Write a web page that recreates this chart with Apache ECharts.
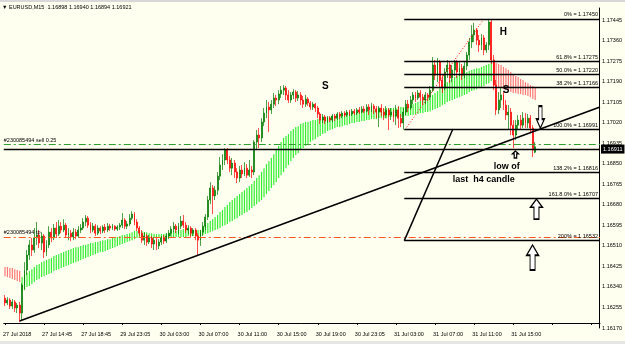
<!DOCTYPE html>
<html><head><meta charset="utf-8">
<script src="https://cdn.jsdelivr.net/npm/echarts@6/dist/echarts.min.js"></script>
<style>html,body{margin:0;padding:0;background:#fffff0;overflow:hidden}#c{width:625px;height:344px;}</style>
</head><body><div id="c"></div>
<script>
// ---- DATA ----
const timeLabels = ['27 Jul 2018','27 Jul 14:45','27 Jul 18:45','29 Jul 23:05','30 Jul 03:00','30 Jul 07:00','30 Jul 11:00','30 Jul 15:00','30 Jul 19:00','30 Jul 23:05','31 Jul 03:00','31 Jul 07:00','31 Jul 11:00','31 Jul 15:00'];
const barsPerLabel = 16;
const emptyBarsRight = 26;
const priceTicks = [1.16170,1.16255,1.16340,1.16425,1.16510,1.16595,1.16680,1.16765,1.16850,1.16935,1.17020,1.17105,1.17190,1.17275,1.17360,1.17445];
const header = '\u25BC EURUSD,M15  1.16898 1.16940 1.16894 1.16921';

// candles: [open, close, low, high]
const candles = [
[1.16294,1.16274,1.16261,1.16307],[1.16274,1.16286,1.16265,1.16298],[1.16286,1.16261,1.16249,1.16294],[1.16261,1.16278,1.16249,1.16290],
[1.16278,1.16253,1.16236,1.16286],[1.16253,1.16265,1.16232,1.16274],[1.16265,1.16232,1.16195,1.16278],[1.16232,1.16348,1.16199,1.16356],
[1.16348,1.16410,1.16327,1.16443],[1.16410,1.16472,1.16390,1.16493],[1.16472,1.16514,1.16452,1.16534],[1.16514,1.16493,1.16468,1.16543],
[1.16493,1.16543,1.16481,1.16584],[1.16543,1.16555,1.16514,1.16609],[1.16555,1.16522,1.16501,1.16576],[1.16522,1.16551,1.16493,1.16567],
[1.16551,1.16485,1.16460,1.16559],[1.16485,1.16514,1.16468,1.16534],[1.16514,1.16567,1.16501,1.16592],[1.16567,1.16543,1.16526,1.16584],
[1.16543,1.16584,1.16534,1.16601],[1.16584,1.16559,1.16543,1.16609],[1.16559,1.16592,1.16551,1.16617],[1.16592,1.16576,1.16563,1.16609],
[1.16576,1.16596,1.16567,1.16621],[1.16596,1.16555,1.16543,1.16605],[1.16555,1.16563,1.16534,1.16584],[1.16563,1.16547,1.16530,1.16576],
[1.16547,1.16567,1.16534,1.16584],[1.16567,1.16551,1.16538,1.16580],[1.16551,1.16576,1.16543,1.16592],[1.16576,1.16584,1.16563,1.16601],
[1.16584,1.16609,1.16576,1.16625],[1.16609,1.16625,1.16592,1.16638],[1.16625,1.16596,1.16584,1.16634],[1.16596,1.16576,1.16563,1.16609],
[1.16576,1.16592,1.16567,1.16605],[1.16592,1.16563,1.16551,1.16601],[1.16563,1.16584,1.16555,1.16596],[1.16584,1.16572,1.16559,1.16592],
[1.16572,1.16588,1.16563,1.16596],[1.16588,1.16576,1.16563,1.16601],[1.16576,1.16592,1.16567,1.16605],[1.16592,1.16584,1.16572,1.16601],
[1.16584,1.16592,1.16576,1.16601],[1.16592,1.16580,1.16572,1.16596],[1.16580,1.16588,1.16572,1.16596],[1.16588,1.16596,1.16576,1.16605],
[1.16596,1.16617,1.16584,1.16646],[1.16617,1.16592,1.16580,1.16625],[1.16592,1.16601,1.16580,1.16613],[1.16601,1.16625,1.16592,1.16642],
[1.16625,1.16642,1.16617,1.16654],[1.16642,1.16609,1.16596,1.16650],[1.16609,1.16584,1.16572,1.16621],[1.16584,1.16563,1.16551,1.16592],
[1.16563,1.16534,1.16522,1.16576],[1.16534,1.16551,1.16514,1.16567],[1.16551,1.16526,1.16510,1.16559],[1.16526,1.16543,1.16518,1.16555],
[1.16543,1.16518,1.16501,1.16551],[1.16518,1.16534,1.16493,1.16547],[1.16534,1.16510,1.16493,1.16543],[1.16510,1.16526,1.16497,1.16538],
[1.16526,1.16543,1.16514,1.16551],[1.16543,1.16530,1.16518,1.16555],[1.16530,1.16551,1.16522,1.16563],[1.16551,1.16563,1.16538,1.16576],
[1.16563,1.16580,1.16551,1.16592],[1.16580,1.16592,1.16567,1.16609],[1.16592,1.16576,1.16563,1.16601],[1.16576,1.16592,1.16559,1.16605],
[1.16592,1.16613,1.16580,1.16634],[1.16613,1.16596,1.16584,1.16638],[1.16596,1.16576,1.16563,1.16609],[1.16576,1.16584,1.16559,1.16596],
[1.16584,1.16563,1.16547,1.16592],[1.16563,1.16576,1.16551,1.16584],[1.16576,1.16551,1.16534,1.16584],[1.16551,1.16534,1.16472,1.16563],
[1.16534,1.16567,1.16510,1.16576],[1.16567,1.16592,1.16551,1.16609],[1.16592,1.16630,1.16576,1.16642],[1.16630,1.16700,1.16617,1.16717],
[1.16700,1.16750,1.16683,1.16774],[1.16750,1.16717,1.16642,1.16762],[1.16717,1.16741,1.16700,1.16758],[1.16741,1.16799,1.16721,1.16816],
[1.16799,1.16845,1.16783,1.16878],[1.16845,1.16866,1.16824,1.16890],[1.16866,1.16907,1.16845,1.16915],[1.16907,1.16866,1.16849,1.16915],
[1.16866,1.16832,1.16816,1.16882],[1.16832,1.16853,1.16803,1.16874],[1.16853,1.16816,1.16791,1.16866],[1.16816,1.16791,1.16770,1.16832],
[1.16791,1.16824,1.16774,1.16841],[1.16824,1.16808,1.16791,1.16845],[1.16808,1.16832,1.16799,1.16857],[1.16832,1.16803,1.16791,1.16849],
[1.16803,1.16824,1.16795,1.16866],[1.16824,1.16816,1.16791,1.16841],[1.16816,1.16940,1.16803,1.16948],[1.16940,1.16969,1.16907,1.16990],
[1.16969,1.16957,1.16915,1.16998],[1.16957,1.17023,1.16940,1.17039],[1.17023,1.17060,1.17006,1.17081],[1.17060,1.17085,1.17039,1.17114],
[1.17085,1.17073,1.16981,1.17106],[1.17073,1.17097,1.17056,1.17114],[1.17097,1.17122,1.17081,1.17143],[1.17122,1.17114,1.17089,1.17135],
[1.17114,1.17139,1.17097,1.17155],[1.17139,1.17155,1.17122,1.17172],[1.17155,1.17164,1.17135,1.17176],[1.17164,1.17135,1.17114,1.17172],
[1.17135,1.17114,1.17102,1.17155],[1.17114,1.17135,1.17102,1.17147],[1.17135,1.17147,1.17118,1.17159],[1.17147,1.17122,1.17106,1.17155],
[1.17122,1.17135,1.17110,1.17151],[1.17135,1.17114,1.17093,1.17147],[1.17114,1.17097,1.17081,1.17131],[1.17097,1.17118,1.17085,1.17135],
[1.17118,1.17102,1.17089,1.17126],[1.17102,1.17085,1.17073,1.17110],[1.17085,1.17097,1.17073,1.17106],[1.17097,1.17081,1.17064,1.17102],
[1.17081,1.17056,1.17039,1.17089],[1.17056,1.17031,1.17015,1.17064],[1.17031,1.17044,1.17019,1.17056],[1.17044,1.17027,1.17015,1.17052],
[1.17027,1.17039,1.17019,1.17048],[1.17039,1.17031,1.17023,1.17048],[1.17031,1.17048,1.17023,1.17056],[1.17048,1.17039,1.17027,1.17056],
[1.17039,1.17056,1.17031,1.17064],[1.17056,1.17048,1.17035,1.17064],[1.17048,1.17060,1.17039,1.17068],[1.17060,1.17052,1.17044,1.17068],
[1.17052,1.17064,1.17044,1.17073],[1.17064,1.17056,1.17048,1.17073],[1.17056,1.17068,1.17048,1.17077],[1.17068,1.17060,1.17052,1.17077],
[1.17060,1.17073,1.17052,1.17081],[1.17073,1.17064,1.17056,1.17085],[1.17064,1.17077,1.17060,1.17089],[1.17077,1.17068,1.17060,1.17089],
[1.17068,1.17085,1.17064,1.17097],[1.17085,1.17073,1.17052,1.17097],[1.17073,1.17089,1.17064,1.17102],[1.17089,1.17077,1.17056,1.17097],
[1.17077,1.17064,1.17039,1.17089],[1.17064,1.17081,1.17002,1.17089],[1.17081,1.17064,1.17048,1.17097],[1.17064,1.17052,1.17031,1.17081],
[1.17052,1.17073,1.17039,1.17089],[1.17073,1.17052,1.16990,1.17081],[1.17052,1.17064,1.17031,1.17081],[1.17064,1.17048,1.17023,1.17073],
[1.17048,1.17073,1.17010,1.17093],[1.17073,1.17039,1.16998,1.17089],[1.17039,1.17019,1.17002,1.17056],[1.17019,1.17064,1.16991,1.17081],
[1.17064,1.17097,1.17052,1.17114],[1.17097,1.17081,1.17064,1.17114],[1.17081,1.17114,1.17073,1.17131],[1.17114,1.17135,1.17097,1.17147],
[1.17135,1.17122,1.17106,1.17147],[1.17122,1.17143,1.17114,1.17155],[1.17143,1.17126,1.17110,1.17155],[1.17126,1.17114,1.17093,1.17139],
[1.17114,1.17135,1.17097,1.17147],[1.17135,1.17126,1.17110,1.17143],[1.17126,1.17155,1.17114,1.17172],[1.17155,1.17259,1.17147,1.17292],
[1.17259,1.17217,1.17197,1.17280],[1.17217,1.17271,1.17188,1.17288],[1.17271,1.17197,1.17164,1.17280],[1.17197,1.17164,1.17143,1.17217],
[1.17164,1.17230,1.17155,1.17246],[1.17230,1.17259,1.17205,1.17280],[1.17259,1.17205,1.17184,1.17271],[1.17205,1.17238,1.17188,1.17259],
[1.17238,1.17271,1.17213,1.17280],[1.17271,1.17230,1.17205,1.17280],[1.17230,1.17246,1.17213,1.17271],[1.17246,1.17217,1.17197,1.17263],
[1.17217,1.17255,1.17205,1.17271],[1.17255,1.17300,1.17238,1.17313],[1.17300,1.17354,1.17280,1.17371],[1.17354,1.17383,1.17329,1.17424],
[1.17383,1.17404,1.17354,1.17433],[1.17404,1.17362,1.17342,1.17412],[1.17362,1.17342,1.17313,1.17383],[1.17342,1.17371,1.17321,1.17387],
[1.17371,1.17321,1.17300,1.17383],[1.17321,1.17342,1.17309,1.17354],[1.17342,1.17437,1.17321,1.17450],[1.17437,1.17280,1.17263,1.17445],
[1.17280,1.17176,1.17155,1.17300],[1.17176,1.17073,1.17052,1.17197],[1.17073,1.17114,1.17056,1.17147],[1.17114,1.17135,1.17081,1.17164],
[1.17135,1.17093,1.17073,1.17147],[1.17093,1.17052,1.17031,1.17114],[1.17052,1.17064,1.16990,1.17093],[1.17064,1.17010,1.16969,1.17081],
[1.17010,1.16969,1.16915,1.17031],[1.16969,1.17010,1.16948,1.17031],[1.17010,1.17031,1.16990,1.17052],[1.17031,1.17010,1.16990,1.17052],
[1.17010,1.17039,1.16998,1.17064],[1.17039,1.17019,1.16998,1.17060],[1.17019,1.17039,1.16998,1.17056],[1.17039,1.16998,1.16981,1.17052],
[1.16998,1.16907,1.16878,1.17010],[1.16898,1.16921,1.16894,1.16940]
];

// two moving averages drawn as a coloured band (lime when fast above slow, pink otherwise)
const maFast = [
1.16385,1.16381,1.16377,1.16373,1.16369,1.16365,1.16361,
1.16381,1.16390,1.16398,1.16406,1.16414,1.16423,1.16431,1.16435,1.16443,1.16447,1.16452,1.16456,1.16460,1.16468,
1.16472,1.16476,1.16481,1.16485,1.16489,1.16493,1.16497,1.16501,1.16505,1.16505,1.16510,1.16514,1.16514,1.16518,
1.16522,1.16522,1.16526,1.16526,1.16530,1.16534,1.16534,1.16538,1.16538,1.16543,1.16547,1.16547,1.16551,1.16555,
1.16555,1.16559,1.16563,1.16567,1.16572,1.16572,1.16572,1.16572,1.16567,1.16567,1.16563,1.16563,1.16559,1.16559,
1.16559,1.16559,1.16559,1.16563,1.16563,1.16567,1.16572,1.16572,1.16576,1.16576,1.16580,1.16580,1.16580,1.16580,
1.16576,1.16576,1.16576,1.16576,1.16588,1.16596,1.16605,1.16613,1.16621,1.16630,1.16638,1.16650,1.16659,1.16671,
1.16679,1.16692,1.16700,1.16708,1.16717,1.16725,1.16733,1.16741,1.16750,1.16758,1.16766,1.16779,1.16791,1.16803,
1.16816,1.16832,1.16849,1.16861,1.16874,1.16890,1.16907,1.16924,1.16940,1.16957,1.16965,1.16973,1.16986,1.16994,
1.17002,1.17006,1.17015,1.17019,1.17023,1.17023,1.17027,1.17031,1.17031,1.17035,1.17035,1.17039,1.17039,1.17044,
1.17044,1.17048,1.17048,1.17048,1.17052,1.17052,1.17056,1.17056,1.17056,1.17060,1.17060,1.17060,1.17064,1.17064,
1.17068,1.17068,1.17073,1.17073,1.17073,1.17077,1.17077,1.17077,1.17077,1.17081,1.17081,1.17081,1.17081,1.17081,
1.17085,1.17085,1.17085,1.17085,1.17089,1.17093,1.17097,1.17102,1.17106,1.17110,1.17114,1.17118,1.17122,1.17126,
1.17135,1.17143,1.17151,1.17164,1.17172,1.17180,1.17188,1.17197,1.17201,1.17209,1.17213,1.17217,1.17222,1.17226,
1.17230,1.17234,1.17238,1.17242,1.17246,1.17246,1.17251,1.17255,1.17259,1.17263,1.17271,
1.17172,1.17168,1.17168,1.17164,1.17159,1.17155,1.17151,1.17147,1.17143,1.17143,1.17139,1.17139,1.17135,1.17135,
1.17131,1.17126,1.17118,1.17114
];
const maSlow = [
1.16423,1.16423,1.16419,1.16419,1.16414,1.16410,1.16406,
1.16327,1.16332,1.16340,1.16344,1.16352,1.16361,1.16369,1.16373,1.16381,1.16385,1.16390,1.16394,1.16398,1.16406,
1.16410,1.16414,1.16419,1.16423,1.16427,1.16431,1.16435,1.16439,1.16443,1.16447,1.16452,1.16456,1.16460,1.16464,
1.16468,1.16472,1.16476,1.16481,1.16485,1.16485,1.16489,1.16493,1.16497,1.16501,1.16505,1.16510,1.16514,1.16518,
1.16522,1.16526,1.16530,1.16534,1.16538,1.16543,1.16543,1.16543,1.16543,1.16543,1.16543,1.16543,1.16543,1.16543,
1.16543,1.16543,1.16543,1.16543,1.16543,1.16543,1.16547,1.16547,1.16547,1.16547,1.16547,1.16547,1.16551,1.16551,
1.16551,1.16551,1.16551,1.16551,1.16555,1.16559,1.16563,1.16567,1.16572,1.16576,1.16580,1.16584,1.16592,1.16596,
1.16601,1.16609,1.16613,1.16621,1.16625,1.16634,1.16638,1.16646,1.16650,1.16659,1.16667,1.16675,1.16683,1.16692,
1.16700,1.16712,1.16725,1.16737,1.16750,1.16762,1.16774,1.16791,1.16803,1.16816,1.16832,1.16845,1.16861,1.16874,
1.16886,1.16895,1.16907,1.16915,1.16924,1.16932,1.16940,1.16948,1.16952,1.16961,1.16965,1.16973,1.16977,1.16986,
1.16990,1.16994,1.16998,1.17002,1.17002,1.17006,1.17010,1.17010,1.17015,1.17019,1.17019,1.17023,1.17023,1.17027,
1.17027,1.17031,1.17031,1.17035,1.17035,1.17035,1.17039,1.17039,1.17039,1.17039,1.17044,1.17044,1.17044,1.17044,
1.17044,1.17044,1.17048,1.17048,1.17048,1.17052,1.17052,1.17056,1.17056,1.17060,1.17060,1.17064,1.17064,1.17068,
1.17073,1.17077,1.17081,1.17085,1.17093,1.17097,1.17106,1.17110,1.17114,1.17118,1.17122,1.17126,1.17131,1.17135,
1.17139,1.17147,1.17151,1.17155,1.17159,1.17164,1.17168,1.17172,1.17180,1.17184,1.17193,
1.17271,1.17267,1.17263,1.17259,1.17251,1.17246,1.17238,1.17230,1.17222,1.17213,1.17209,1.17201,1.17197,1.17188,
1.17184,1.17176,1.17172,1.17168
];

// Fibonacci tool
const fibLabels = ['0%','61.8%','50.0%','38.2%','100.0%','138.2%','161.8.0%','200%'];
const fibValues = [1.17450,1.17275,1.17220,1.17166,1.16991,1.16816,1.16707,1.16532];
const fibStartBar = 163.4;
const fibDiagonal = [[163.7,1.16991],[196.0,1.17450]];

// drawn lines (bar index, price)
const trendLine = [[6.0,1.16199],[243.5,1.17085]];
const fibTrendLine = [[163.4,1.16532],[183.3,1.16994]];

// horizontal price lines
const sellOrderPrice = 1.16931;
const sellOrderText = '#230085494 sell 0.25';
const tpPrice = 1.16548;
const tpText = '#230085494 tp';
const hLinePrice = 1.16911;

// annotations (bar index, price)
const texts = [
  {t:'H', x:204.0, y:1.17393, big:true},
  {t:'S', x:131.1, y:1.17172, big:true},
  {t:'S', x:205.1, y:1.17153, big:true},
  {t:'low of', x:205.3, y:1.16837},
  {t:'last  h4 candle', x:195.9, y:1.16783}
];
const arrows = [
  {x:219.1, y:1.16998, dir:'down'},
  {x:208.9, y:1.16903, dir:'up'},
  {x:217.5, y:1.16704, dir:'up'},
  {x:215.9, y:1.16514, dir:'up'}
];
const arrowSizes = [[8,22],[6,7],[12,20],[12,25]];

// ---- CHART ----
const nBars = candles.length + emptyBarsRight;
const cats = Array.from({length:nBars},(_,i)=>String(i));
const bandData = maFast.map((f,i)=>[i,f,maSlow[i]]);
const FONT = 'Liberation Sans';
const small = 5.5;

const chart = echarts.init(document.getElementById('c'), null, {renderer:'canvas'});
const arrowPath = 'path://M6,0 L12,9 L8.5,9 L8.5,22 L3.5,22 L3.5,9 L0,9 Z';

const option = {
  backgroundColor:'#fffff0',
  animation:false,
  title:{text:header, left:2, top:4, padding:0, textStyle:{fontSize:small, fontWeight:'normal', color:'#000', fontFamily:FONT}},
  grid:[
    {left:0, right:25, top:8, bottom:21},
    {left:0, right:25, top:8, bottom:16}
  ],
  xAxis:[
    {type:'category', gridIndex:0, data:cats, boundaryGap:true,
     axisLine:{onZero:false, lineStyle:{color:'#000', width:1}},
     axisTick:{show:true, interval:barsPerLabel-1, alignWithLabel:true, length:2, lineStyle:{color:'#000'}},
     axisLabel:{interval:barsPerLabel-1, align:'left', fontSize:small, color:'#000', margin:8, fontFamily:FONT, padding:[0,0,0,-2],
       formatter:(v,i)=>{const k=i/barsPerLabel; return (Number.isInteger(k)&&k<timeLabels.length)?timeLabels[k]:'';}},
     splitLine:{show:false}},
    {type:'value', gridIndex:0, min:-0.5, max:nBars-0.5, show:false, axisLine:{show:false, onZero:false}},
    {type:'value', gridIndex:1, min:0, max:1, show:false, axisLine:{show:false, onZero:false}}
  ],
  yAxis:[
    {type:'value', gridIndex:0, position:'right', min:1.16191, max:1.17495, scale:true, show:false,
     axisLine:{show:false, onZero:false}, axisTick:{show:false}, axisLabel:{show:false}, splitLine:{show:false}},
    {type:'value', gridIndex:1, position:'right', min:1.16170, max:1.17495, scale:true,
     axisLine:{show:true, onZero:false, lineStyle:{color:'#000', width:1}},
     axisTick:{show:false},
     axisLabel:{show:true, customValues:priceTicks, fontSize:small, color:'#000', margin:3, fontFamily:FONT, formatter:v=>v.toFixed(5)},
     splitLine:{show:false}}
  ],
  series:[
    {type:'custom', xAxisIndex:0, yAxisIndex:0, data:bandData, z:2,
     renderItem:(params, api)=>{
       const i=api.value(0), f=api.value(1), s=api.value(2);
       const a=api.coord([i,f]), b=api.coord([i,s]);
       return {type:'rect', shape:{x:a[0]-0.6, y:Math.min(a[1],b[1]), width:1.2, height:Math.abs(a[1]-b[1])},
         style:{fill: f>s ? '#33ee33' : '#ff7878'}};
     }},
    {type:'candlestick', xAxisIndex:0, yAxisIndex:0, data:candles, barWidth:1.4, z:3,
     itemStyle:{color:'#007a00', color0:'#ff0000', borderColor:'#007a00', borderColor0:'#ff0000', borderWidth:0.7}},
    // red dotted fibo diagonal, also carries the horizontal order / price lines
    {type:'line', xAxisIndex:1, yAxisIndex:0, data:fibDiagonal, symbol:'none', z:4,
     lineStyle:{color:'#ff0000', width:1, type:[1,2]},
     markLine:{silent:true, symbol:['none','none'], animation:false, precision:5,
       data:[
         {yAxis:sellOrderPrice, lineStyle:{color:'#2e9e2e', width:1, type:[7,3,2,3]},
          label:{show:true, position:'insideStartTop', formatter:sellOrderText, fontSize:small, color:'#000', fontFamily:FONT, distance:[0,1]}},
         {yAxis:tpPrice, lineStyle:{color:'#ff5a1f', width:1, type:[7,3,2,3]},
          label:{show:true, position:'insideStartTop', formatter:tpText, fontSize:small, color:'#000', fontFamily:FONT, distance:[0,1]}},
         {yAxis:hLinePrice, lineStyle:{color:'#000', width:1.3, type:'solid'},
          label:{show:true, position:'end', formatter:v=>Number(v.value).toFixed(5), fontSize:small, color:'#fff', backgroundColor:'#000', padding:[2,2,1,2], fontFamily:FONT, distance:1}}
       ]}},
    // fibo trend line, also carries the fibonacci levels
    {type:'line', xAxisIndex:1, yAxisIndex:0, data:fibTrendLine, symbol:'none', z:5,
     lineStyle:{color:'#000', width:1.5},
     markLine:{silent:true, symbol:['none','none'], animation:false, precision:5,
       lineStyle:{color:'#000', width:1.3, type:'solid'},
       data: fibValues.map((v,k)=>[
         {coord:[fibStartBar, v], label:{show:true, position:'insideEndTop', formatter:fibLabels[k]+' = '+v.toFixed(5), fontSize:small, color:'#000', fontFamily:FONT, distance:[2,1]}},
         {coord:[nBars-0.5, v]}
       ])}},
    {type:'line', xAxisIndex:1, yAxisIndex:0, data:trendLine, symbol:'none', z:5,
     lineStyle:{color:'#000', width:1.5}},
    // arrows
    {type:'scatter', xAxisIndex:1, yAxisIndex:0, z:6,
     data: arrows.map((a,k)=>({value:[a.x,a.y], symbol:arrowPath, symbolSize:arrowSizes[k],
        symbolRotate: a.dir==='down'?180:0, symbolOffset:[0, a.dir==='down'? -arrowSizes[k][1]/2 : arrowSizes[k][1]/2]})),
     symbolKeepAspect:false,
     itemStyle:{color:'#ffffff', borderColor:'#000', borderWidth:1.3, opacity:1}},
    // texts
    {type:'custom', xAxisIndex:1, yAxisIndex:0, z:7, data: texts.map(t=>[t.x,t.y]),
     renderItem:(params, api)=>{
       const t=texts[params.dataIndex]; const p=api.coord([api.value(0),api.value(1)]);
       return {type:'text', x:p[0], y:p[1], style:{text:t.t, fill:'#000', align:'center', verticalAlign:'middle',
         font:'bold '+(t.big?10:9)+'px "'+FONT+'"'}};
     }}
  ],
  graphic:[
    {type:'rect', shape:{x:0,y:0,width:625,height:2}, style:{fill:'#d8d8d8'}, z:100},
    {type:'rect', shape:{x:0,y:341,width:625,height:3}, style:{fill:'#e6e6e6'}, z:100}
  ]
};
chart.setOption(option);
</script></body></html>
